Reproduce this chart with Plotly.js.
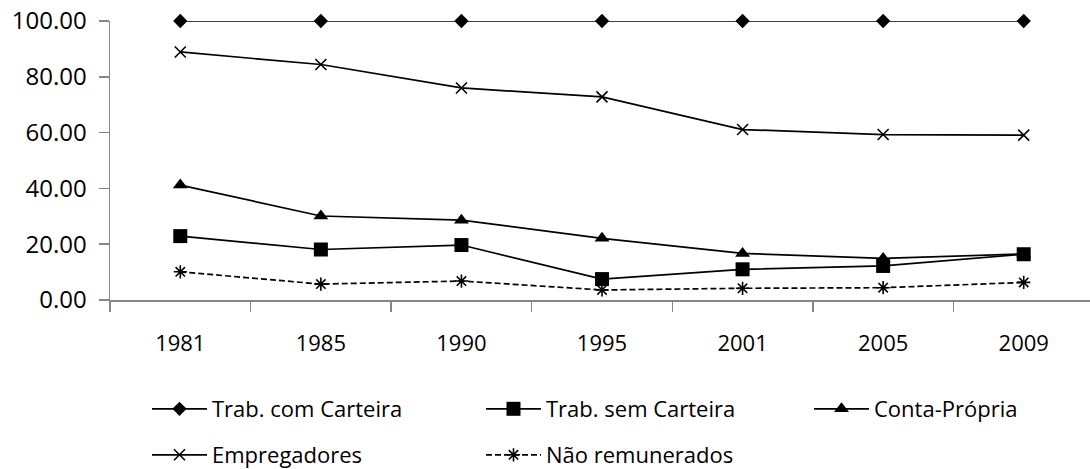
<!DOCTYPE html>
<html>
<head>
<meta charset="utf-8">
<script src="https://cdn.plot.ly/plotly-3.0.1.min.js"></script>
<style>
html, body { margin: 0; padding: 0; overflow: hidden; background: #fff; }
#chart { width: 1094px; height: 469px; }
</style>
</head>
<body>
<div id="chart"></div>
<script>
const years = ['1981', '1985', '1990', '1995', '2001', '2005', '2009'];
const trabComCarteira = [100, 100, 100, 100, 100, 100, 100];
const trabSemCarteira = [22.9, 18.1, 19.7, 7.5, 11.0, 12.2, 16.4];
const contaPropria = [41.2, 30.1, 28.6, 22.1, 16.7, 14.9, 16.5];
const empregadores = [88.9, 84.4, 76.0, 72.8, 61.1, 59.3, 59.1];
const naoRemunerados = [10.1, 5.7, 6.8, 3.6, 4.2, 4.4, 6.3];
const seriesNames = ['Trab. com Carteira', 'Trab. sem Carteira', 'Conta-Própria', 'Empregadores', 'Não remunerados'];
const yTickVals = [0, 20, 40, 60, 80, 100];

const W = 1094, H = 469;
const black = '#000000';
function mk(name, y, symbol, size, dash, open, legendId) {
  return {
    type: 'scatter', mode: 'lines+markers', name: name, x: years, y: y,
    legend: legendId,
    line: { color: black, width: 1.7, dash: dash || 'solid' },
    marker: { symbol: symbol, size: size, color: black,
              line: { color: black, width: open ? 1.6 : 0 } },
    cliponaxis: false
  };
}
const data = [
  mk(seriesNames[0], trabComCarteira, 'diamond', 11, null, false, 'legend'),
  mk(seriesNames[1], trabSemCarteira, 'square', 14, null, false, 'legend2'),
  mk(seriesNames[2], contaPropria, 'triangle-up', 13, null, false, 'legend3'),
  mk(seriesNames[3], empregadores, 'x-thin-open', 11, null, true, 'legend4'),
  mk(seriesNames[4], naoRemunerados, 'asterisk-open', 11, '6px,3px', true, 'legend5')
];

function leg(cx, cy) {
  // cx: centre of the legend line sample, cy: row centre (pixels from top)
  return {
    orientation: 'h', xref: 'container', yref: 'container',
    x: (cx - 20) / W, xanchor: 'left',
    y: 1 - cy / H, yanchor: 'middle',
    itemwidth: 55,
    font: { size: 22, color: '#000000' },
    bgcolor: 'rgba(0,0,0,0)', borderwidth: 0
  };
}

const axisGray = '#868686';
const layout = {
  width: W, height: H,
  margin: { l: 110, r: 0, t: 21, b: 169 },
  paper_bgcolor: '#ffffff', plot_bgcolor: '#ffffff',
  font: { family: '"Open Sans", "Noto Sans", sans-serif', size: 22, color: '#000000' },
  showlegend: true,
  xaxis: {
    type: 'category', range: [-0.5, 6.5], fixedrange: true,
    showgrid: false, zeroline: false,
    showline: true, linecolor: axisGray, linewidth: 1.5,
    ticks: 'outside', tickson: 'boundaries', ticklen: 10, tickcolor: axisGray, tickwidth: 1.5,
    ticklabelstandoff: 23,
    tickfont: { size: 22 }
  },
  yaxis: {
    range: [0, 100], fixedrange: true,
    tickvals: yTickVals, tickformat: '.2f',
    showgrid: false, zeroline: false,
    showline: true, linecolor: axisGray, linewidth: 1.5,
    ticks: 'outside', ticklen: 10, tickcolor: axisGray, tickwidth: 1.5,
    ticklabelstandoff: 7,
    tickfont: { size: 24 }
  },
  legend: leg(167, 409),
  legend2: leg(501, 409),
  legend3: leg(829, 409),
  legend4: leg(167, 455),
  legend5: leg(501, 455)
};
Plotly.newPlot('chart', data, layout, { displayModeBar: false, staticPlot: true });
</script>
</body>
</html>
